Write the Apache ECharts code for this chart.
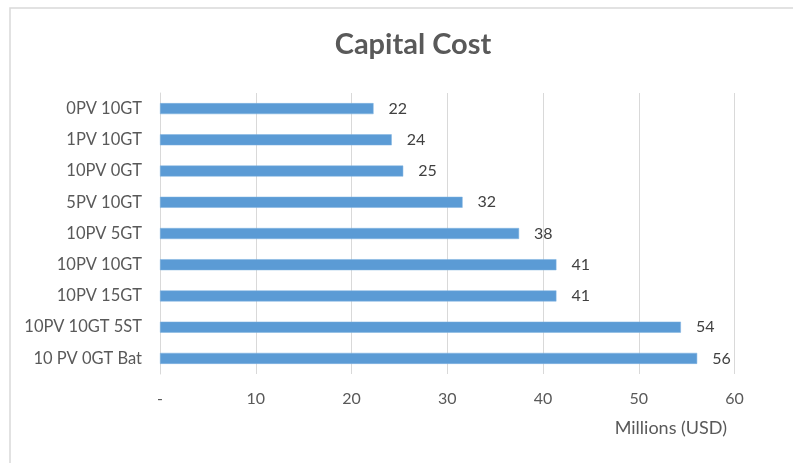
<!DOCTYPE html>
<html>
<head>
<meta charset="utf-8">
<script src="https://cdn.jsdelivr.net/npm/echarts@6/dist/echarts.min.js"></script>
<style>html,body{margin:0;padding:0;background:#fff;}#c{width:793px;height:463px;}</style>
</head>
<body>
<div id="c"></div>
<script>
const categories = ["0PV 10GT", "1PV 10GT", "10PV 0GT", "5PV 10GT", "10PV 5GT", "10PV 10GT", "10PV 15GT", "10PV 10GT 5ST", "10 PV 0GT Bat"];
const capitalCost = [22.3, 24.2, 25.4, 31.6, 37.5, 41.4, 41.4, 54.4, 56.1];
const xTicks = { min: 0, max: 60, interval: 10 };
const titleText = "Capital Cost";
const axisTitle = "Millions (USD)";

const chart = echarts.init(document.getElementById('c'), null, { renderer: 'canvas' });
const font = 'Lato, "Open Sans", sans-serif';
chart.setOption({
  animation: false,
  backgroundColor: '#ffffff',
  title: {
    text: titleText,
    left: 408, top: 25, textAlign: 'center',
    textStyle: { fontFamily: font, fontWeight: 'bold', fontSize: 29, color: '#595959' }
  },
  graphic: [
    { type: 'rect', shape: { x: 10, y: 8, width: 820, height: 480 }, style: { fill: 'none', stroke: '#d9d9d9', lineWidth: 1.5 }, silent: true, z: -1 },
    { type: 'text', right: 66, top: 419, style: { text: axisTitle, fontFamily: font, fontSize: 18, fill: '#595959' } }
  ],
  grid: { left: 160, right: 58.5, top: 93, bottom: 89, containLabel: false },
  xAxis: {
    type: 'value', min: xTicks.min, max: xTicks.max, interval: xTicks.interval,
    axisLine: { show: false }, axisTick: { show: false },
    splitLine: { show: true, lineStyle: { color: '#d9d9d9', width: 1 } },
    axisLabel: { margin: 17, color: '#595959', fontFamily: font, fontSize: 16,
      formatter: v => v === 0 ? '-' : String(v) }
  },
  yAxis: {
    type: 'category', data: categories, inverse: true,
    axisLine: { show: true, lineStyle: { color: '#d9d9d9', width: 1 } },
    axisTick: { show: false },
    axisLabel: { margin: 18, color: '#595959', fontFamily: font, fontSize: 16.5 }
  },
  series: [{
    type: 'bar', data: capitalCost, barWidth: 11,
    itemStyle: { color: '#5b9bd5', borderColor: '#7fb2e0', borderWidth: 0.5 },
    label: { show: true, position: 'right', distance: 15, color: '#404040', fontFamily: font, fontSize: 16,
      formatter: p => Math.round(p.value) }
  }]
});
</script>
</body>
</html>
